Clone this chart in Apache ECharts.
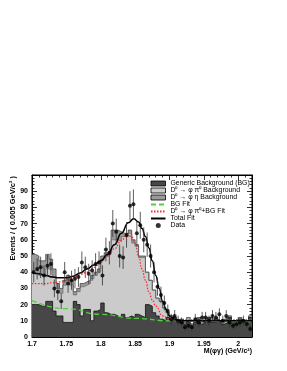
<!DOCTYPE html>
<html><head><meta charset="utf-8">
<script src="https://cdn.jsdelivr.net/npm/echarts@6/dist/echarts.min.js"></script>
<style>html,body{margin:0;padding:0;background:#fff}#c{width:287px;height:371px}</style>
</head><body><div id="c"></div>
<script>
// ---- axis settings ----
const X_MIN = 1.7, X_MAX = 2.02, X_STEP = 0.05, BIN_WIDTH = 0.005;
const Y_MIN = 0, Y_MAX = 100, Y_STEP = 10;

// ---- stacked MC histograms (64 bins of 0.005 GeV/c^2 from 1.70) ----
const genericBG = [20,20,19,19,22,22,16,13,13,9, 9,9,22,20,13,17,17,10,16,17,
                   21,15,14,14,13,12,14,12,13,12, 14,13,12,20,19,15,13,11,10,12,
                   10,12,9,11,8,10,7,9,11,8, 10,12,9,11,10,8,9,12,10,8, 11,9,10,12];
const phiPi0BG  = [21,21,19,20,20,19,21,17,14,23, 26,23,4,8,18,15,16,26,22,23,
                   27,35,37,46,47,47,48,50,51,46, 42,36,37,20,16,14,11,11,8,3,
                   3,0,1,0,1,2,1,0,1,2, 1,0,2,1,0,1,2,1,0,2, 1,1,0,1];
const phiEtaBG  = [10,9,9,8,9,7,5,3,3,3, 3,3,2,2,2,2,2,2,2,2,
                   2,2,2,6,6,6,2,2,2,2, 1,1,1,0,0,0,0,0,0,0,
                   0,0,0,0,0,0,0,0,0,0, 0,0,0,0,0,0,0,0,0,0, 0,0,0,0];

// ---- data points ----
const dataCounts = [40,42,43,38,44,45,30,28,22,40, 33,35,36,37,46,43,39,41,45,46,
                    38,54,52,70,65,50,49,63,81,82, 64,69,60,57,50,40,31,26,21,16,
                    11,13,10,9,6,7,6,11,9,12, 12,10,13,12,14,10,13,9,7,8, 9,10,8,5];
const dataErrors = [6.3,6.5,6.6,6.2,6.6,6.7,5.5,5.3,4.7,6.3, 5.7,5.9,6.0,6.1,6.8,6.6,6.2,6.4,6.7,6.8,
                    6.2,7.3,7.2,8.4,8.1,7.1,7.0,7.9,9.0,9.1, 8.0,8.3,7.7,7.5,7.1,6.3,5.6,5.1,4.6,4.0,
                    3.3,3.6,3.2,3.0,2.4,2.6,2.4,3.3,3.0,3.5, 3.5,3.2,3.6,3.5,3.7,3.2,3.6,3.0,2.6,2.8, 3.0,3.2,2.8,2.2];

// ---- fit curves ----
const bgFitX = [1.70,1.75,1.80,1.85,1.90,1.95,2.02];
const bgFitY = [22.5,17.5,14,11.5,10,9.6,9.5];
const pi0FitX = [1.70,1.71,1.72,1.73,1.74,1.75,1.76,1.77,1.78,1.79,1.80,1.81,1.82,1.83,1.838,1.845,1.85,1.855,1.86,1.865,1.87,1.875,1.88,1.89,1.90,1.91,1.95,2.02];
const pi0FitY = [33,33,33,33.5,34,35,36.5,38.5,40,43,46,50,54.5,59.5,63,62,58,50,42,35,28,23,19,13,11,10.5,10.5,10.5];
const totFitX = [1.70,1.71,1.72,1.73,1.74,1.75,1.76,1.77,1.78,1.79,1.80,1.81,1.82,1.83,1.84,1.848,1.855,1.86,1.865,1.87,1.875,1.88,1.885,1.89,1.895,1.90,1.91,1.92,1.95,2.02];
const totFitY = [40,39,38,37,36.5,36.5,37.5,39.5,42,44.5,47,51,57,64,70.5,73,71,67,62,55,47,38,30,22,17,13,10.5,10,10,10];

const seriesNames = ['Generic Background (BG)','D\u2070 \u2192 \u03c6 \u03c0\u2070 Background','D\u2070 \u2192 \u03c6 \u03b7 Background',
                     'BG Fit','D\u2070 \u2192 \u03c6 \u03c0\u2070+BG Fit','Total Fit','Data'];

// ---- derived ----
const nBins = genericBG.length;
const binCenters = [], binEdges = [];
for (let i = 0; i < nBins; i++) {
  binEdges.push(+(X_MIN + i * BIN_WIDTH).toFixed(4));
  binCenters.push(+(X_MIN + (i + 0.5) * BIN_WIDTH).toFixed(4));
}
function stepOutline(vals) {
  const out = vals.map((v, i) => [binEdges[i], v]);
  out.push([X_MAX, vals[vals.length - 1]]);
  return out;
}
// cumulative stack levels (drawn back-to-front)
const levelGeneric = genericBG.slice();
const levelPi0 = genericBG.map((g, i) => g + phiPi0BG[i]);
const levelEta = levelPi0.map((v, i) => v + phiEtaBG[i]);
const zip = (xs, ys) => xs.map((x, i) => [x, ys[i]]);

const FONT = 'Liberation Sans, Arial, sans-serif';
const axisCommon = {
  axisLine: {show: true, onZero: false, lineStyle: {color: '#000', width: 1}},
  axisTick: {show: true, inside: true, length: 5, lineStyle: {color: '#000', width: 0.8}},
  minorTick: {show: true, splitNumber: 5, length: 2.5, lineStyle: {color: '#000', width: 0.8}},
  splitLine: {show: false}, minorSplitLine: {show: false}
};
const COL_GEN = '#474747', COL_PI0 = '#cbcbcb', COL_ETA = '#9a9a9a';
const noSym = {color: 'rgba(0,0,0,0)', borderWidth: 0};

const chart = echarts.init(document.getElementById('c'), null, {renderer: 'canvas'});
chart.setOption({
  animation: false,
  backgroundColor: '#fff',
  grid: {left: 32, right: 35, top: 175, bottom: 34, show: true, borderColor: '#000', borderWidth: 1, backgroundColor: 'transparent'},
  legend: {
    orient: 'vertical', left: 150, top: 180, padding: 0, itemGap: 0,
    itemWidth: 14.5, itemHeight: 5,
    textStyle: {fontFamily: FONT, fontSize: 6.9, color: '#000', lineHeight: 7},
    data: [
      {name: seriesNames[0], icon: 'rect', itemStyle: {color: COL_GEN, borderColor: '#000', borderWidth: 0.8}},
      {name: seriesNames[1], icon: 'rect', itemStyle: {color: COL_PI0, borderColor: '#000', borderWidth: 0.8}},
      {name: seriesNames[2], icon: 'rect', itemStyle: {color: COL_ETA, borderColor: '#000', borderWidth: 0.8}},
      {name: seriesNames[3], itemStyle: noSym},
      {name: seriesNames[4], itemStyle: noSym},
      {name: seriesNames[5], itemStyle: noSym},
      {name: seriesNames[6], icon: 'circle'}
    ]
  },
  xAxis: [
    Object.assign({type: 'value', min: X_MIN, max: X_MAX, interval: X_STEP, position: 'bottom',
      axisLabel: {show: true, margin: 4, fontFamily: FONT, fontSize: 7, fontWeight: 'bold', color: '#000',
        showMaxLabel: false, formatter: v => String(+v.toFixed(2))}}, axisCommon),
    Object.assign({type: 'value', min: X_MIN, max: X_MAX, interval: X_STEP, position: 'top',
      axisLabel: {show: false}}, axisCommon)
  ],
  yAxis: [
    Object.assign({type: 'value', min: Y_MIN, max: Y_MAX, interval: Y_STEP, position: 'left',
      axisLabel: {show: true, margin: 4, fontFamily: FONT, fontSize: 7, fontWeight: 'bold', color: '#000', showMaxLabel: false}}, axisCommon),
    Object.assign({type: 'value', min: Y_MIN, max: Y_MAX, interval: Y_STEP, position: 'right',
      axisLabel: {show: false}}, axisCommon)
  ],
  graphic: [
    {type: 'text', x: 13, y: 176, rotation: Math.PI / 2, z: 100,
     style: {text: 'Events / ( 0.005 GeV/c\u00b2 )', font: 'bold 7.5px ' + FONT, fill: '#000', align: 'right', verticalAlign: 'middle'}},
    {type: 'text', x: 252, y: 351, z: 100,
     style: {text: 'M(\u03c6\u03b3) (GeV/c\u00b2)', font: 'bold 7px ' + FONT, fill: '#000', align: 'right', verticalAlign: 'middle'}}
  ],
  series: [
    {name: seriesNames[2], type: 'line', step: 'end', symbol: 'none', data: stepOutline(levelEta),
     itemStyle: {color: COL_ETA}, areaStyle: {color: COL_ETA, opacity: 1}, lineStyle: {color: '#444', width: 0.8}, z: 1},
    {name: seriesNames[1], type: 'line', step: 'end', symbol: 'none', data: stepOutline(levelPi0),
     itemStyle: {color: COL_PI0}, areaStyle: {color: COL_PI0, opacity: 1}, lineStyle: {color: '#666', width: 0.7}, z: 1},
    {name: seriesNames[0], type: 'line', step: 'end', symbol: 'none', data: stepOutline(levelGeneric),
     itemStyle: {color: COL_GEN}, areaStyle: {color: COL_GEN, opacity: 1}, lineStyle: {color: '#111', width: 0.8}, z: 1},
    {name: seriesNames[3], type: 'line', symbol: 'none', smooth: true, smoothMonotone: 'x',
     data: zip(bgFitX, bgFitY), lineStyle: {color: '#4fd23c', width: 1.3, type: [5, 3]}, itemStyle: {color: '#4fd23c'}, z: 3},
    {name: seriesNames[4], type: 'line', symbol: 'none', smooth: true, smoothMonotone: 'x',
     data: zip(pi0FitX, pi0FitY), lineStyle: {color: '#ff2b2b', width: 1.3, type: [1.5, 1.5]}, itemStyle: {color: '#ff2b2b'}, z: 4},
    {name: seriesNames[5], type: 'line', symbol: 'none', smooth: true, smoothMonotone: 'x',
     data: zip(totFitX, totFitY), lineStyle: {color: '#000', width: 1.5}, itemStyle: {color: '#000'}, z: 5},
    {name: 'errors', type: 'custom', silent: true, z: 6,
     data: binCenters.map((x, i) => [x, dataCounts[i] - dataErrors[i], dataCounts[i] + dataErrors[i]]),
     renderItem: (params, api) => {
       const p1 = api.coord([api.value(0), api.value(1)]);
       const p2 = api.coord([api.value(0), api.value(2)]);
       return {type: 'line', shape: {x1: p1[0], y1: p1[1], x2: p2[0], y2: p2[1]},
               style: {stroke: '#333', lineWidth: 0.8}};
     }},
    {name: seriesNames[6], type: 'scatter', symbol: 'circle', symbolSize: 4,
     data: zip(binCenters, dataCounts), itemStyle: {color: '#000'}, z: 7}
  ]
});
</script></body></html>
